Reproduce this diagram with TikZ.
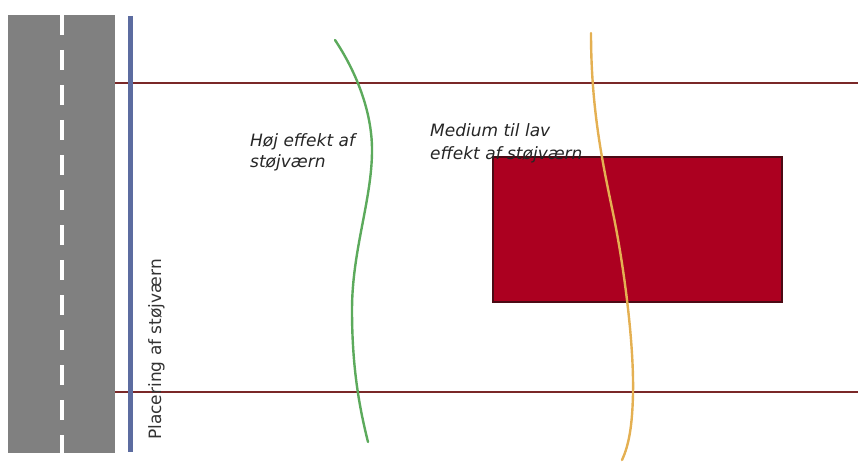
\documentclass[tikz,border=0pt]{standalone}
\usepackage{fontspec}
\setmainfont{DejaVu Sans}
\definecolor{roadgray}{RGB}{128,128,128}
\definecolor{barrierblue}{RGB}{92,108,160}
\definecolor{zoneline}{RGB}{122,40,40}
\definecolor{highgreen}{RGB}{92,170,92}
\definecolor{lowyellow}{RGB}{228,176,82}
\definecolor{housered}{RGB}{172,0,32}
\definecolor{houseedge}{RGB}{75,10,20}
\tikzset{
  labeltext/.style={font=\fontsize{17}{21}\selectfont\itshape, text=black!85, inner sep=0pt, anchor=base west},
  effectline/.style={line width=2.4pt, line cap=round},
}
\begin{document}
\begin{tikzpicture}[x=1pt,y=-1pt]
			\useasboundingbox (0,0) rectangle (858,462);
			
			% vej
			\fill[roadgray] (8,15) rectangle (115,453);
			\draw[white, line width=4.5pt, dash pattern=on 20pt off 15pt] (62,15)--(62,453);
			
			% zone
			\draw[zoneline, line width=1.4pt] (115,83)--(858,83);
			\draw[zoneline, line width=1.4pt] (115,392)--(858,392);
			
			% stoejvaern
			\draw[barrierblue, line width=5pt] (130,16)--(130,452);
			\node[rotate=90, anchor=base west, inner sep=0pt, text=black!80,
			      font=\fontsize{17}{21}\selectfont] (placering) at (161,440) {Placering af støjværn};
			
			% bygning
			\draw[houseedge, fill=housered, line width=1.6pt] (493,157) rectangle (782,302);
			
			% effekt-linjer
			\draw[highgreen, effectline] (335,40) .. controls (355,70) and (372,110) .. (372,150)
			   .. controls (372,200) and (352,250) .. (352,310)
			   .. controls (352,370) and (360,410) .. (368,442);
			\draw[lowyellow, effectline] (591,33) .. controls (591,110) and (603,165) .. (613,213)
			   .. controls (623,261) and (634,340) .. (633,393)
			   .. controls (632.4,425) and (629,445) .. (622,460);
			
			\node[labeltext] (hoej1) at (250,146.5) {Høj effekt af};
			\node[labeltext] (hoej2) at (250,168) {støjværn};
			\node[labeltext] (med1) at (430,137) {Medium til lav};
			\node[labeltext] (med2) at (430,159.5) {effekt af støjværn};
\end{tikzpicture}
\end{document}
